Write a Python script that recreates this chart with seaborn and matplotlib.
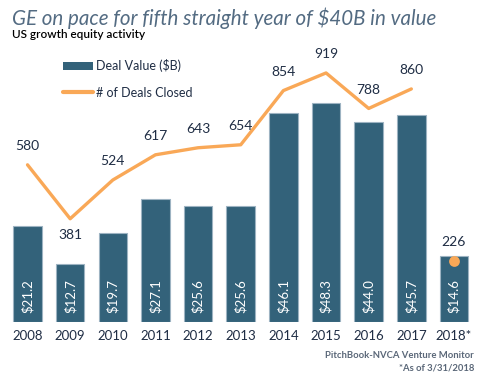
# US growth equity: deal value bars with deal count line on a twin axis.
import matplotlib

matplotlib.use("Agg")
import matplotlib.pyplot as plt
import seaborn as sns
from matplotlib.lines import Line2D
from matplotlib.patches import Patch

years = ["2008", "2009", "2010", "2011", "2012", "2013", "2014", "2015", "2016", "2017", "2018*"]
deal_value = [21.2, 12.7, 19.7, 27.1, 25.6, 25.6, 46.1, 48.3, 44.0, 45.7, 14.6]
deal_count = [580, 381, 524, 617, 643, 654, 854, 919, 788, 860, 226]

BAR = "#33627a"
ORANGE = "#f9a857"
TEXT = "#1f2d44"

sns.set_theme(style="white")
plt.rcParams["font.family"] = ["Lato", "DejaVu Sans"]

W, H = 481, 376
fig = plt.figure(figsize=(W / 100, H / 100), dpi=100)
x0, x1 = 6.2, 475.3
y_base, y_top = 322, 40
ax = fig.add_axes([x0 / W, (H - y_base) / H, (x1 - x0) / W, (y_base - y_top) / H])

sns.barplot(x=years, y=deal_value, color=BAR, width=0.67, saturation=1,
            edgecolor="#9db3c2", linewidth=0.8, ax=ax)
ax.set_xlim(-0.5, len(years) - 0.5)
ax.set_ylim(0, (y_base - y_top) / 4.54)
for i, v in enumerate(deal_value):
    ax.text(i, 2.0, f"${v:.1f}", rotation=90, ha="center", va="bottom",
            color="white", fontsize=9.5)

ax2 = ax.twinx()
pos = list(range(len(years)))
sns.lineplot(x=pos[:-1], y=deal_count[:-1], color=ORANGE, lw=2.4, ax=ax2)
ax2.scatter(pos[-1:], deal_count[-1:], color=ORANGE, s=60, zorder=5, linewidths=0)
ax2.set_ylim(0, (y_base - y_top) / 0.271)
ax2.set_xlim(-0.5, len(years) - 0.5)
below = {1}
for i, n in enumerate(deal_count):
    dy = -12 if i in below else 13.5
    ax2.annotate(str(n), (i, n), xytext=(0, dy), textcoords="offset points",
                 ha="center", va="center", color=TEXT, fontsize=10)

for a in (ax, ax2):
    a.set_yticks([])
    a.set_ylabel("")
    for s in a.spines.values():
        s.set_visible(False)
ax.tick_params(axis="x", length=0, pad=6, labelsize=9.5, labelcolor=TEXT)

handles = [Patch(facecolor=BAR, edgecolor="none"),
           Line2D([], [], color=ORANGE, lw=3)]
fig.legend(handles, ["Deal Value ($B)", "# of Deals Closed"], loc="upper left",
           bbox_to_anchor=(52 / W, 1 - 48 / H), frameon=False, fontsize=9,
           handlelength=2.4, handletextpad=0.2, labelspacing=1.15, labelcolor=TEXT)

fig.text(12 / W, 1 - 18 / H, "GE on pace for fifth straight year of $40B in value",
         fontsize=14.8, style="italic", color="#536b82", va="center")
fig.text(12 / W, 1 - 34 / H, "US growth equity activity", fontsize=8.5,
         color="black", va="center", weight="semibold")
fig.text(474 / W, 1 - 355 / H, "PitchBook-NVCA Venture Monitor", fontsize=6.8,
         color="#5a6778", ha="right", va="center", weight="bold")
fig.text(474 / W, 1 - 368 / H, "*As of 3/31/2018", fontsize=6.8,
         color="#5a6778", ha="right", va="center", weight="bold")

fig.savefig("out.png", dpi=100)
